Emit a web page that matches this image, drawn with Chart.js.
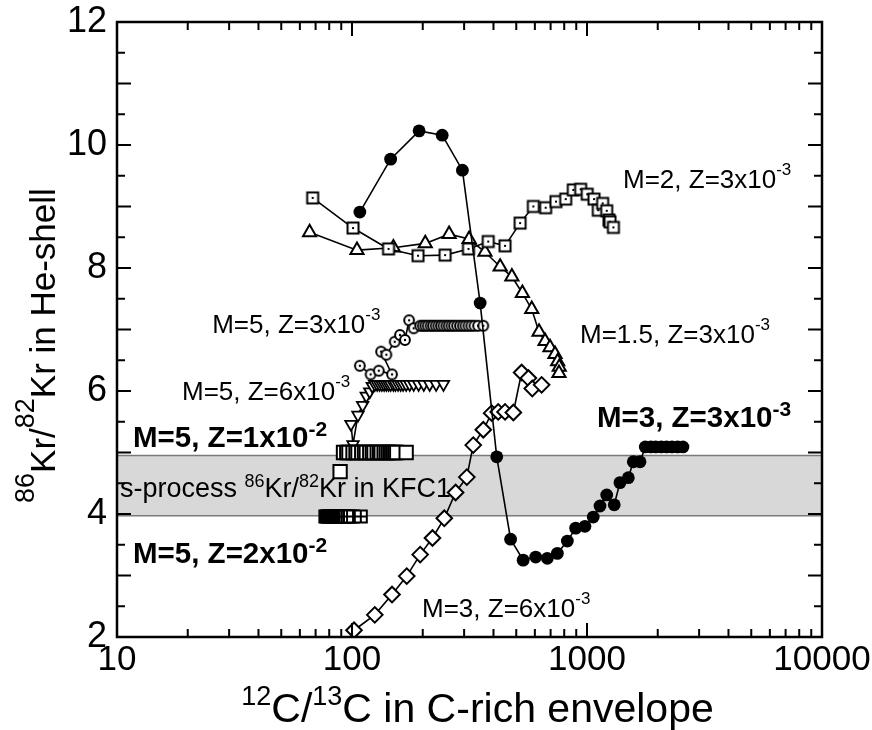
<!DOCTYPE html>
<html>
<head>
<meta charset="utf-8">
<title>86Kr/82Kr vs 12C/13C</title>
<script src="https://cdn.jsdelivr.net/npm/chart.js@4.4.1/dist/chart.umd.min.js"></script>
<style>
  html, body { margin: 0; padding: 0; background: #fff; }
  canvas { display: block; }
</style>
</head>
<body>
<canvas id="chart" width="872" height="730"></canvas>
<script>
// M=3, Z=3x10^-3 (filled circles)
const m3z3X = [108, 146, 193, 242, 295, 351, 413, 473, 535, 605, 678, 748, 825, 895, 980, 1063, 1136, 1213, 1306, 1381, 1499, 1574, 1681, 1770, 1870, 1960, 2070, 2180, 2300, 2430, 2560];
const m3z3Y = [8.91, 9.77, 10.23, 10.16, 9.59, 7.43, 4.93, 3.59, 3.25, 3.30, 3.28, 3.36, 3.56, 3.77, 3.80, 3.95, 4.13, 4.31, 4.15, 4.51, 4.59, 4.85, 4.85, 5.09, 5.09, 5.09, 5.09, 5.09, 5.09, 5.09, 5.09];

// M=2, Z=3x10^-3 (squares with dot)
const m2z3X = [68, 101, 143, 191, 249, 313, 380, 448, 519, 591, 667, 738, 812, 874, 940, 1002, 1071, 1117, 1166, 1213, 1240, 1253, 1295];
const m2z3Y = [9.14, 8.65, 8.31, 8.20, 8.21, 8.31, 8.43, 8.36, 8.73, 9.00, 8.98, 9.08, 9.12, 9.27, 9.28, 9.20, 9.12, 8.94, 9.05, 8.93, 8.78, 8.75, 8.66];

// M=1.5, Z=3x10^-3 (triangles)
const m15z3X = [66, 105, 150, 205, 259, 315, 368, 427, 479, 531, 582, 625, 663, 696, 731, 750, 762, 760];
const m15z3Y = [8.58, 8.29, 8.33, 8.40, 8.55, 8.47, 8.26, 8.02, 7.86, 7.59, 7.33, 6.96, 6.81, 6.71, 6.60, 6.48, 6.39, 6.29];

// M=5, Z=3x10^-3 (circles with dot)
const m5z3X = [108, 120, 130, 148, 133, 140, 152, 160, 168, 175, 183, 195, 200, 205, 210, 216, 221, 227, 233, 239, 245, 252, 258, 265, 272, 280, 288, 296, 304, 313, 322, 332, 344, 362];
const m5z3Y = [6.41, 6.27, 6.33, 6.27, 6.64, 6.59, 6.80, 6.91, 6.83, 7.15, 7.02, 7.06, 7.06, 7.06, 7.06, 7.06, 7.06, 7.06, 7.06, 7.06, 7.06, 7.06, 7.06, 7.06, 7.06, 7.06, 7.06, 7.06, 7.06, 7.06, 7.06, 7.06, 7.06, 7.06];

// M=5, Z=6x10^-3 (downward triangles)
const m5z6X = [99, 101, 106, 111, 115, 119, 122, 125, 128, 131, 134, 137, 140, 143, 146, 150, 153, 157, 161, 165, 170, 176, 183, 192, 202, 214, 228, 245];
const m5z6Y = [5.46, 5.13, 5.61, 5.77, 5.92, 5.99, 6.08, 6.11, 6.11, 6.11, 6.11, 6.11, 6.11, 6.11, 6.11, 6.11, 6.11, 6.11, 6.11, 6.11, 6.11, 6.11, 6.11, 6.11, 6.11, 6.11, 6.11, 6.11];

// M=5, Z=1x10^-2 (open squares)
const m5z10X = [89, 92, 95, 97, 101, 104, 106, 110, 113, 115, 119, 122, 124, 128, 131, 133, 137, 140, 143, 146, 149, 152, 155, 170];
const m5z10Y = [4.69, 5.0, 5.0, 5.0, 5.0, 5.0, 5.0, 5.0, 5.0, 5.0, 5.0, 5.0, 5.0, 5.0, 5.0, 5.0, 5.0, 5.0, 5.0, 5.0, 5.0, 5.0, 5.0, 5.0];

// M=5, Z=2x10^-2 (crossed squares)
const m5z20X = [77, 78, 79, 80, 81, 82, 83, 84, 85, 86, 87, 88, 89, 90, 91, 92, 93, 94, 96, 98, 101, 109];
const m5z20Y = [3.96, 3.96, 3.96, 3.96, 3.96, 3.96, 3.96, 3.96, 3.96, 3.96, 3.96, 3.96, 3.96, 3.96, 3.96, 3.96, 3.96, 3.96, 3.96, 3.96, 3.96, 3.96];

// M=3, Z=6x10^-3 (diamonds)
const m3z6X = [102, 125, 148, 171, 195, 220, 247, 276, 308, 328, 362, 393, 419, 448, 486, 527, 563, 585, 641];
const m3z6Y = [2.11, 2.36, 2.69, 2.99, 3.34, 3.61, 3.93, 4.35, 4.60, 5.12, 5.37, 5.64, 5.66, 5.66, 5.65, 6.30, 6.21, 6.04, 6.10];

// KFC1 s-process band
const bandLow = 3.97;
const bandHigh = 4.95;

const xTickLabels = [10, 100, 1000, 10000];
const yTickLabels = [2, 4, 6, 8, 10, 12];

const FONT = '"Liberation Sans", Arial, Helvetica, sans-serif';

// text notes anchored in data coordinates (left, baseline)
const notes = [
  { x: 1423, y: 9.30, parts: [['M=2, Z=3x10', 0], ['-3', 1]], bold: false },
  { x: 934, y: 6.78, parts: [['M=1.5, Z=3x10', 0], ['-3', 1]], bold: false },
  { x: 1103, y: 5.41, parts: [['M=3, Z=3x10', 0], ['-3', 1]], bold: true },
  { x: 25.4, y: 6.94, parts: [['M=5, Z=3x10', 0], ['-3', 1]], bold: false },
  { x: 18.9, y: 5.85, parts: [['M=5, Z=6x10', 0], ['-3', 1]], bold: false },
  { x: 11.7, y: 5.09, parts: [['M=5, Z=1x10', 0], ['-2', 1]], bold: true },
  { x: 11.7, y: 3.20, parts: [['M=5, Z=2x10', 0], ['-2', 1]], bold: true },
  { x: 198.6, y: 2.33, parts: [['M=3, Z=6x10', 0], ['-3', 1]], bold: false },
];
const bandNote = { x: 10.3, y: 4.28, parts: [['s-process ', 0], ['86', 1], ['Kr/', 0], ['82', 1], ['Kr in KFC1', 0]] };

const normalText = { size: 26, supSize: 17, rise: 13, bold: false };
const boldText = { size: 29.5, supSize: 21, rise: 11, bold: true };
const bandText = { size: 27, supSize: 18, rise: 10, bold: false };

function drawRich(ctx, x, y, parts, o) {
  let cx = x;
  parts.forEach(([txt, sup]) => {
    ctx.font = (o.bold ? 'bold ' : '') + (sup ? o.supSize : o.size) + 'px ' + FONT;
    ctx.fillText(txt, cx, sup ? y - o.rise : y);
    cx += ctx.measureText(txt).width;
  });
  return cx - x;
}

function richWidth(ctx, parts, o) {
  let w = 0;
  parts.forEach(([txt, sup]) => {
    ctx.font = (o.bold ? 'bold ' : '') + (sup ? o.supSize : o.size) + 'px ' + FONT;
    w += ctx.measureText(txt).width;
  });
  return w;
}

function marker(size, draw) {
  const c = document.createElement('canvas');
  c.width = size; c.height = size;
  draw(c.getContext('2d'), size);
  return c;
}

const squareDot = marker(16, g => {
  g.fillStyle = '#fff'; g.strokeStyle = '#000'; g.lineWidth = 2;
  g.fillRect(2.5, 2.5, 11, 11); g.strokeRect(2.5, 2.5, 11, 11);
  g.fillStyle = '#000'; g.fillRect(7, 7, 2, 2);
});
const circleDot = marker(14, g => {
  g.fillStyle = '#fff'; g.strokeStyle = '#000'; g.lineWidth = 2;
  g.beginPath(); g.arc(7, 7, 4.9, 0, Math.PI * 2); g.fill(); g.stroke();
  g.fillStyle = '#000'; g.beginPath(); g.arc(7, 7, 1.2, 0, Math.PI * 2); g.fill();
});
const squareCross = marker(16, g => {
  g.fillStyle = '#fff'; g.strokeStyle = '#000'; g.lineWidth = 2;
  g.fillRect(2, 2, 12, 12); g.strokeRect(2, 2, 12, 12);
  g.beginPath(); g.moveTo(8, 2); g.lineTo(8, 14); g.moveTo(2, 8); g.lineTo(14, 8); g.stroke();
});

function pts(xs, ys) { return xs.map((x, i) => ({ x, y: ys[i] })); }

const base = {
  showLine: true, borderColor: '#000', borderWidth: 1.6,
  pointBorderColor: '#000', pointBackgroundColor: '#fff', pointBorderWidth: 2
};

const datasets = [
  { ...base, label: 'M=3, Z=3x10-3', data: pts(m3z3X, m3z3Y), pointStyle: 'circle', pointRadius: 6.4, pointBackgroundColor: '#000', pointBorderWidth: 0 },
  { ...base, label: 'M=5, Z=1x10-2', data: pts(m5z10X, m5z10Y), showLine: false, pointStyle: 'rect', pointRadius: 9.4 },
  { ...base, label: 'M=5, Z=2x10-2', data: pts(m5z20X, m5z20Y), showLine: false, pointStyle: squareCross, pointRadius: 7 },
  { ...base, label: 'M=3, Z=6x10-3', data: pts(m3z6X, m3z6Y), pointStyle: 'rectRot', pointRadius: 7.8 },
  { ...base, label: 'M=5, Z=3x10-3', data: pts(m5z3X, m5z3Y), pointStyle: circleDot, pointRadius: 6 },
  { ...base, label: 'M=5, Z=6x10-3', data: pts(m5z6X, m5z6Y), pointStyle: 'triangle', rotation: 180, pointRadius: 6.6, pointBorderWidth: 1.8 },
  { ...base, label: 'M=2, Z=3x10-3', data: pts(m2z3X, m2z3Y), pointStyle: squareDot, pointRadius: 7 },
  { ...base, label: 'M=1.5, Z=3x10-3', data: pts(m15z3X, m15z3Y), pointStyle: 'triangle', pointRadius: 7.6 },
];

const framePlugin = {
  id: 'frame',
  beforeDatasetsDraw(chart) {
    const { ctx, chartArea: a, scales: { x, y } } = chart;
    const yTop = y.getPixelForValue(bandHigh), yBot = y.getPixelForValue(bandLow);
    ctx.save();
    ctx.fillStyle = '#d8d8d8';
    ctx.fillRect(a.left, yTop, a.right - a.left, yBot - yTop);
    ctx.strokeStyle = '#7a7a7a'; ctx.lineWidth = 1.5;
    ctx.beginPath();
    ctx.moveTo(a.left, yTop); ctx.lineTo(a.right, yTop);
    ctx.moveTo(a.left, yBot); ctx.lineTo(a.right, yBot);
    ctx.stroke();
    ctx.fillStyle = '#000'; ctx.textAlign = 'left'; ctx.textBaseline = 'alphabetic';
    drawRich(ctx, x.getPixelForValue(bandNote.x), y.getPixelForValue(bandNote.y), bandNote.parts, bandText);
    notes.forEach(n => drawRich(ctx, x.getPixelForValue(n.x), y.getPixelForValue(n.y), n.parts, n.bold ? boldText : normalText));
    ctx.restore();
  },
  afterDatasetsDraw(chart) {
    const { ctx, chartArea: a, scales: { x, y } } = chart;
    ctx.save();
    ctx.strokeStyle = '#000';
    ctx.lineWidth = 2;
    ctx.beginPath();
    for (let v = 2; v <= 12.001; v += 0.5) {
      const p = y.getPixelForValue(v);
      const len = Math.abs(v - Math.round(v)) < 0.01 ? 14 : 8;
      ctx.moveTo(a.left, p); ctx.lineTo(a.left + len, p);
      ctx.moveTo(a.right, p); ctx.lineTo(a.right - len, p);
    }
    [10, 100, 1000].forEach(d => {
      for (let k = 1; k <= 9; k++) {
        const p = x.getPixelForValue(k * d);
        const len = k === 1 ? 14 : 8;
        ctx.moveTo(p, a.bottom); ctx.lineTo(p, a.bottom - len);
        ctx.moveTo(p, a.top); ctx.lineTo(p, a.top + len);
      }
    });
    const pe = x.getPixelForValue(10000);
    ctx.moveTo(pe, a.bottom); ctx.lineTo(pe, a.bottom - 14);
    ctx.moveTo(pe, a.top); ctx.lineTo(pe, a.top + 14);
    ctx.stroke();
    ctx.lineWidth = 2.5;
    ctx.strokeRect(a.left, a.top, a.right - a.left, a.bottom - a.top);
    ctx.restore();
  },
  afterDraw(chart) {
    const { ctx, chartArea: a } = chart;
    ctx.save();
    ctx.fillStyle = '#000'; ctx.textAlign = 'left'; ctx.textBaseline = 'alphabetic';
    const xt = { size: 41, supSize: 27, rise: 17, bold: false };
    const xParts = [['12', 1], ['C/', 0], ['13', 1], ['C in C-rich envelope', 0]];
    const w = richWidth(ctx, xParts, xt);
    drawRich(ctx, (a.left + a.right) / 2 + 8 - w / 2, 722, xParts, xt);
    const yt = { size: 35, supSize: 27, rise: 21, bold: false };
    const yParts = [['86', 1], ['Kr/', 0], ['82', 1], ['Kr in He-shell', 0]];
    ctx.translate(55, 503);
    ctx.rotate(-Math.PI / 2);
    drawRich(ctx, 0, 0, yParts, yt);
    ctx.restore();
  }
};

new Chart(document.getElementById('chart'), {
  type: 'scatter',
  data: { datasets },
  options: {
    responsive: false,
    animation: false,
    layout: { padding: { top: 22, right: 50, left: 0, bottom: 0 } },
    plugins: { legend: { display: false }, tooltip: { enabled: false } },
    scales: {
      x: {
        type: 'logarithmic', min: 10, max: 10000,
        afterBuildTicks: s => { s.ticks = xTickLabels.map(v => ({ value: v, major: true })); },
        ticks: { callback: v => String(v), font: { size: 35, family: FONT }, color: '#000', padding: 2, maxRotation: 0, autoSkip: false },
        grid: { display: false, drawTicks: false },
        border: { display: false },
        afterFit: s => { s.height = 93; s.paddingLeft = 0; s.paddingRight = 0; }
      },
      y: {
        min: 2, max: 12,
        afterBuildTicks: s => { s.ticks = yTickLabels.map(v => ({ value: v })); },
        ticks: { font: { size: 36, family: FONT }, color: '#000', padding: 10 },
        grid: { display: false, drawTicks: false },
        border: { display: false },
        afterFit: s => { s.width = 117; s.paddingTop = 0; s.paddingBottom = 0; }
      }
    }
  },
  plugins: [framePlugin]
});
</script>
</body>
</html>
